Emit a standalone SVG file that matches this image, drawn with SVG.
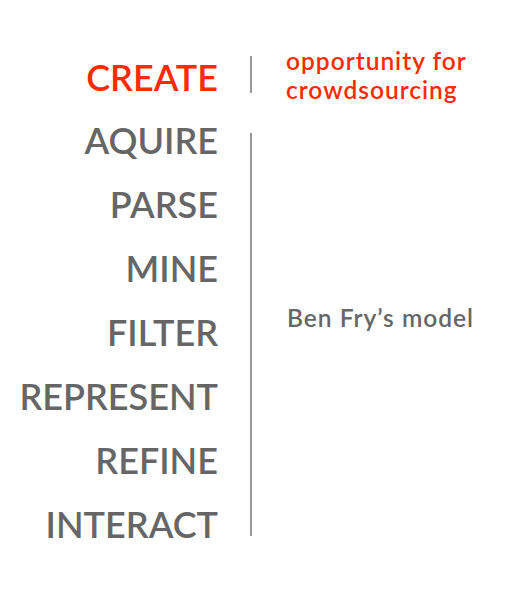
<svg xmlns="http://www.w3.org/2000/svg" width="512" height="594" viewBox="0 0 512 594">
<style>
.step{font-family:Lato,"Open Sans",sans-serif;font-size:36px;font-weight:600;fill:#666;text-anchor:end}
.note{font-family:Lato,"Open Sans",sans-serif;font-size:24.5px;font-weight:600;letter-spacing:1px;fill:#666}
.red{fill:#ff2a00}
.sep{stroke:#999;stroke-width:2}
</style>
<rect width="512" height="594" fill="#fff"/>
<g id="create"><text class="step red" x="218" y="91">CREATE</text></g>
<g id="aquire"><text class="step" x="218" y="154">AQUIRE</text></g>
<g id="parse"><text class="step" x="218" y="218">PARSE</text></g>
<g id="mine"><text class="step" x="218" y="282">MINE</text></g>
<g id="filter"><text class="step" x="218" y="346">FILTER</text></g>
<g id="represent"><text class="step" x="218" y="410">REPRESENT</text></g>
<g id="refine"><text class="step" x="218" y="474">REFINE</text></g>
<g id="interact"><text class="step" x="218" y="538">INTERACT</text></g>
<g id="separators">
<line class="sep" x1="251" y1="56" x2="251" y2="93"/>
<line class="sep" x1="251" y1="133" x2="251" y2="536"/>
</g>
<g id="opportunity"><text class="note red" x="286" y="70">opportunity for</text><text class="note red" x="286" y="99">crowdsourcing</text></g>
<g id="model"><text class="note" x="287" y="327">Ben Fry’s model</text></g>
</svg>
